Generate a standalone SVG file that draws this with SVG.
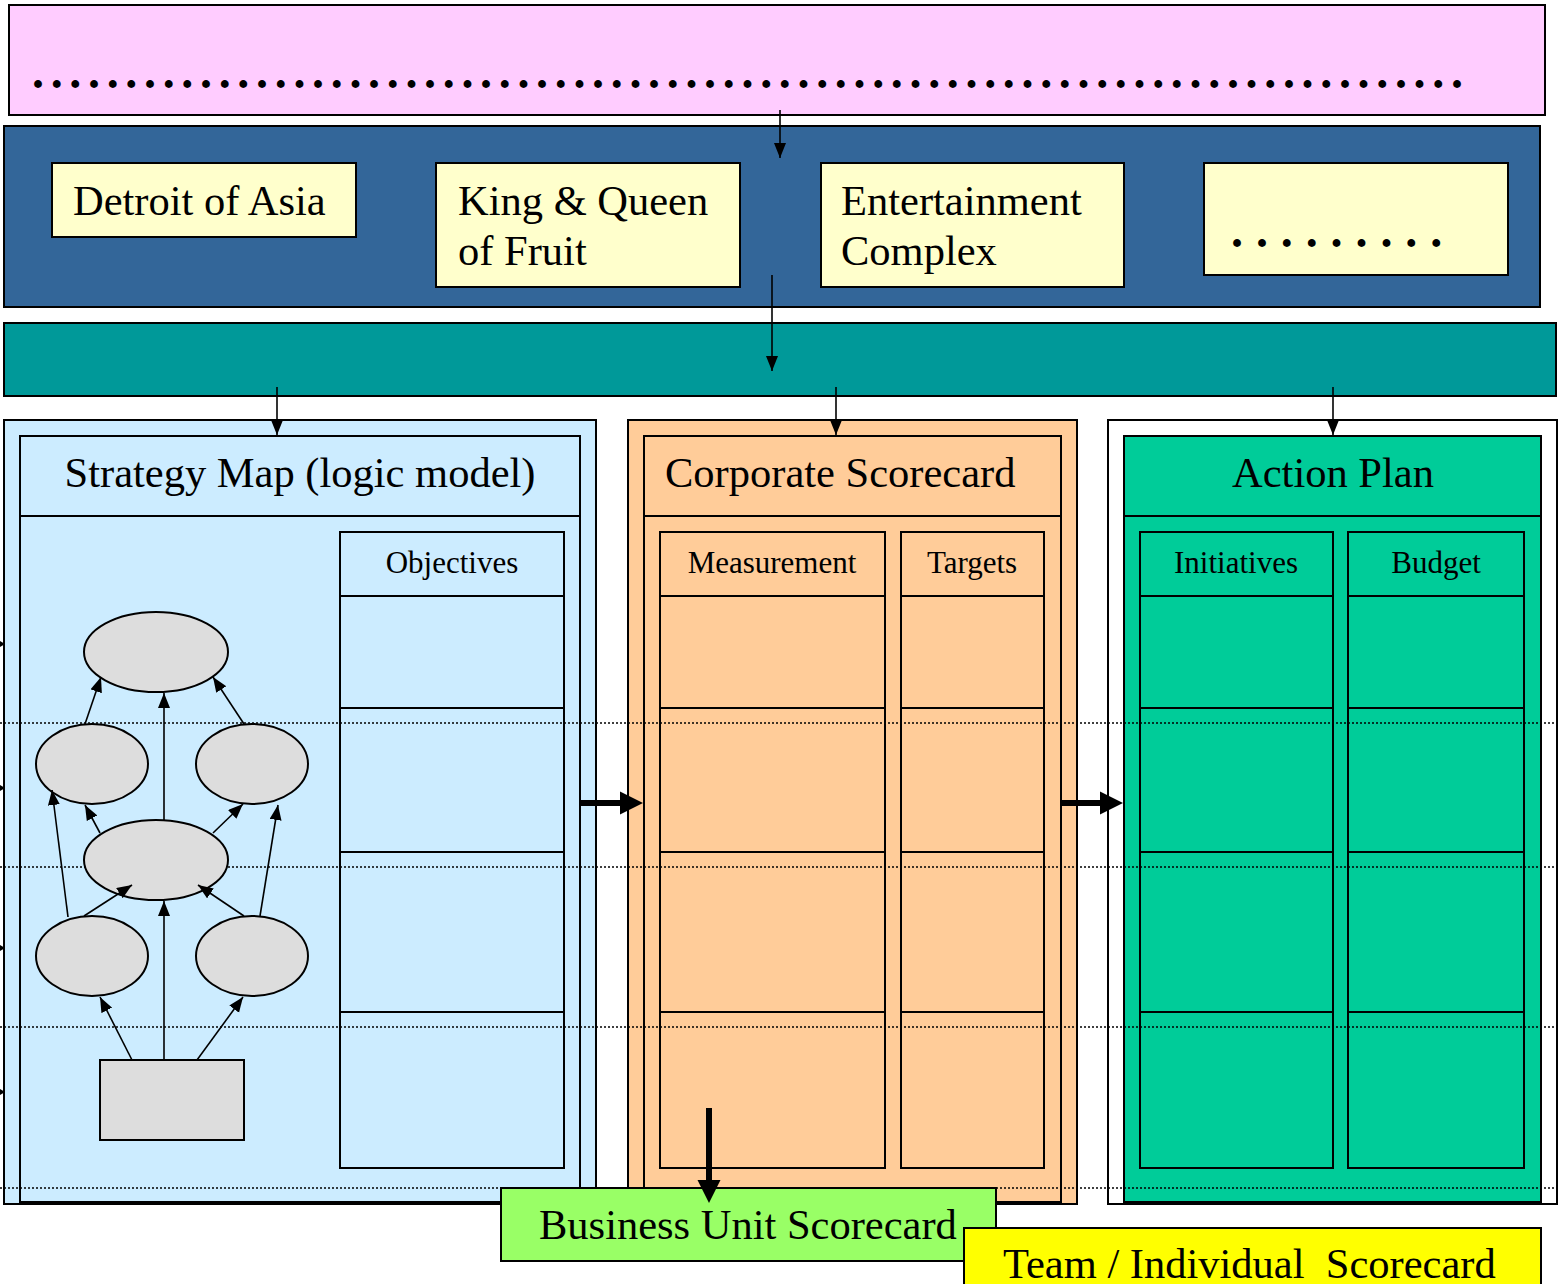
<svg xmlns="http://www.w3.org/2000/svg" width="1560" height="1284" viewBox="0 0 1560 1284">
  <defs>
    <style>
      .box { stroke: #000; stroke-width: 2; }
      .thin { stroke: #000; stroke-width: 1.6; fill: none; }
      .cell { fill: none; stroke: #000; stroke-width: 2; }
      .node { fill: #DDDDDD; stroke: #000; stroke-width: 2; }
      .guide { stroke: #000; stroke-width: 1.3; stroke-dasharray: 2 2; fill: none; }
      .big { font-family: "Liberation Serif", "Times New Roman", serif; font-size: 42.5px; fill: #000; }
      .head { font-family: "Liberation Serif", "Times New Roman", serif; font-size: 31px; fill: #000; }
      .dots { font-family: "Liberation Serif", "Times New Roman", serif; font-size: 48px; font-weight: bold; fill: #000; }
      .solid { fill: #000; }
    </style>
    <marker id="arr" markerUnits="userSpaceOnUse" markerWidth="16" markerHeight="14" refX="15" refY="6" orient="auto">
      <path d="M0,0 L15,6 L0,12 z" fill="#000"/>
    </marker>
  </defs>

  <!-- vision banner -->
  <g id="vision">
    <rect class="box" x="9" y="5" width="1536" height="110" fill="#FFCCFF"/>
    <text class="dots" x="32" y="88" letter-spacing="6.67">.............................................................................</text>
  </g>

  <!-- strategic themes band -->
  <g id="themes">
    <rect class="box" x="4" y="126" width="1536" height="181" fill="#336699"/>
  </g>
  <g id="theme-detroit">
    <rect class="box" x="52" y="163" width="304" height="74" fill="#FFFFCC"/>
    <text class="big" x="73" y="215">Detroit of Asia</text>
  </g>
  <g id="theme-fruit">
    <rect class="box" x="436" y="163" width="304" height="124" fill="#FFFFCC"/>
    <text class="big" x="458" y="215">King &amp; Queen</text>
    <text class="big" x="458" y="265">of Fruit</text>
  </g>
  <g id="theme-entertainment">
    <rect class="box" x="821" y="163" width="303" height="124" fill="#FFFFCC"/>
    <text class="big" x="841" y="215">Entertainment</text>
    <text class="big" x="841" y="265">Complex</text>
  </g>
  <g id="theme-more">
    <rect class="box" x="1204" y="163" width="304" height="112" fill="#FFFFCC"/>
    <text class="dots" x="1231" y="247" letter-spacing="12.9">.........</text>
  </g>

  <!-- teal band -->
  <g id="strategy-band">
    <rect class="box" x="4" y="323" width="1552" height="73" fill="#009999"/>
  </g>

  <!-- strategy map column -->
  <g id="strategy-map">
    <rect class="box" x="4" y="420" width="592" height="784" fill="#CCECFF"/>
    <rect class="box" x="20" y="436" width="560" height="766" fill="#CCECFF"/>
    <line class="cell" x1="20" y1="516" x2="580" y2="516"/>
    <text class="big" x="300" y="487" text-anchor="middle">Strategy Map (logic model)</text>
    <rect class="cell" x="340" y="532" width="224" height="636"/>
    <line class="cell" x1="340" y1="596" x2="564" y2="596"/>
    <line class="cell" x1="340" y1="708" x2="564" y2="708"/>
    <line class="cell" x1="340" y1="852" x2="564" y2="852"/>
    <line class="cell" x1="340" y1="1012" x2="564" y2="1012"/>
    <text class="head" x="452" y="573" text-anchor="middle">Objectives</text>
  </g>

  <!-- corporate scorecard column -->
  <g id="corporate-scorecard">
    <rect class="box" x="628" y="420" width="449" height="784" fill="#FFCC99"/>
    <rect class="box" x="644" y="436" width="417" height="766" fill="#FFCC99"/>
    <line class="cell" x1="644" y1="516" x2="1061" y2="516"/>
    <text class="big" x="665" y="487">Corporate Scorecard</text>
    <rect class="cell" x="660" y="532" width="225" height="636"/>
    <rect class="cell" x="901" y="532" width="143" height="636"/>
    <path class="cell" d="M660,596 H885 M660,708 H885 M660,852 H885 M660,1012 H885 M901,596 H1044 M901,708 H1044 M901,852 H1044 M901,1012 H1044"/>
    <text class="head" x="772" y="573" text-anchor="middle">Measurement</text>
    <text class="head" x="972" y="573" text-anchor="middle">Targets</text>
  </g>

  <!-- action plan column -->
  <g id="action-plan">
    <rect class="box" x="1108" y="420" width="449" height="784" fill="#FFFFFF"/>
    <rect class="box" x="1124" y="436" width="417" height="766" fill="#00CC99"/>
    <line class="cell" x1="1124" y1="516" x2="1541" y2="516"/>
    <text class="big" x="1333" y="487" text-anchor="middle">Action Plan</text>
    <rect class="cell" x="1140" y="532" width="193" height="636"/>
    <rect class="cell" x="1348" y="532" width="176" height="636"/>
    <path class="cell" d="M1140,596 H1333 M1140,708 H1333 M1140,852 H1333 M1140,1012 H1333 M1348,596 H1524 M1348,708 H1524 M1348,852 H1524 M1348,1012 H1524"/>
    <text class="head" x="1236" y="573" text-anchor="middle">Initiatives</text>
    <text class="head" x="1436" y="573" text-anchor="middle">Budget</text>
  </g>

  <!-- perspective guide lines -->
  <g id="perspective-lines">
    <line class="guide" x1="0" y1="723" x2="1560" y2="723"/>
    <line class="guide" x1="0" y1="867" x2="1560" y2="867"/>
    <line class="guide" x1="0" y1="1027" x2="1560" y2="1027"/>
    <line class="guide" x1="0" y1="1188" x2="1560" y2="1188"/>
    <polygon class="solid" points="0,641 5,644 0,647"/>
    <polygon class="solid" points="0,785 5,788 0,791"/>
    <polygon class="solid" points="0,945 5,948 0,951"/>
    <polygon class="solid" points="0,1089 5,1092 0,1095"/>
  </g>

  <!-- logic model nodes -->
  <g id="goal"><ellipse class="node" cx="156" cy="652" rx="72" ry="40"/></g>
  <g id="outcome-left"><ellipse class="node" cx="92" cy="764" rx="56" ry="40"/></g>
  <g id="outcome-right"><ellipse class="node" cx="252" cy="764" rx="56" ry="40"/></g>
  <g id="process"><ellipse class="node" cx="156" cy="860" rx="72" ry="40"/></g>
  <g id="capability-left"><ellipse class="node" cx="92" cy="956" rx="56" ry="40"/></g>
  <g id="capability-right"><ellipse class="node" cx="252" cy="956" rx="56" ry="40"/></g>
  <g id="foundation"><rect class="node" x="100" y="1060" width="144" height="80"/></g>

  <!-- lower-level scorecards -->
  <g id="business-unit-scorecard">
    <rect class="box" x="501" y="1188" width="495" height="73" fill="#99FF66"/>
    <text class="big" x="539" y="1239">Business Unit Scorecard</text>
  </g>
  <g id="team-scorecard">
    <rect class="box" x="964" y="1228" width="577" height="70" fill="#FFFF00"/>
    <text class="big" x="1003" y="1278" style="white-space:pre">Team / Individual  Scorecard</text>
  </g>

  <!-- connectors -->
  <g id="connectors">
    <line class="thin" x1="780" y1="110" x2="780" y2="158" marker-end="url(#arr)"/>
    <line class="thin" x1="772" y1="275" x2="772" y2="371" marker-end="url(#arr)"/>
    <line class="thin" x1="277" y1="387" x2="277" y2="435" marker-end="url(#arr)"/>
    <line class="thin" x1="836" y1="387" x2="836" y2="435" marker-end="url(#arr)"/>
    <line class="thin" x1="1333" y1="387" x2="1333" y2="435" marker-end="url(#arr)"/>

    <line class="thin" x1="85" y1="724" x2="101" y2="677" marker-end="url(#arr)"/>
    <line class="thin" x1="164" y1="820" x2="164" y2="693" marker-end="url(#arr)"/>
    <line class="thin" x1="244" y1="724" x2="213" y2="677" marker-end="url(#arr)"/>
    <line class="thin" x1="100" y1="833" x2="85" y2="805" marker-end="url(#arr)"/>
    <line class="thin" x1="213" y1="833" x2="243" y2="804" marker-end="url(#arr)"/>
    <line class="thin" x1="68" y1="917" x2="52" y2="790" marker-end="url(#arr)"/>
    <line class="thin" x1="260" y1="916" x2="278" y2="805" marker-end="url(#arr)"/>
    <line class="thin" x1="84" y1="916" x2="132" y2="885" marker-end="url(#arr)"/>
    <line class="thin" x1="244" y1="916" x2="198" y2="885" marker-end="url(#arr)"/>
    <line class="thin" x1="164" y1="1060" x2="164" y2="901" marker-end="url(#arr)"/>
    <line class="thin" x1="132" y1="1060" x2="100" y2="997" marker-end="url(#arr)"/>
    <line class="thin" x1="197" y1="1060" x2="243" y2="997" marker-end="url(#arr)"/>

    <line stroke="#000" stroke-width="6" x1="580" y1="803" x2="622" y2="803"/>
    <polygon class="solid" points="620,791.5 643,803 620,814.5"/>
    <line stroke="#000" stroke-width="6" x1="1061" y1="803" x2="1102" y2="803"/>
    <polygon class="solid" points="1100,791.5 1123,803 1100,814.5"/>
    <line stroke="#000" stroke-width="6" x1="709" y1="1108" x2="709" y2="1182"/>
    <polygon class="solid" points="697.5,1180 709,1203 720.5,1180"/>
  </g>
</svg>
